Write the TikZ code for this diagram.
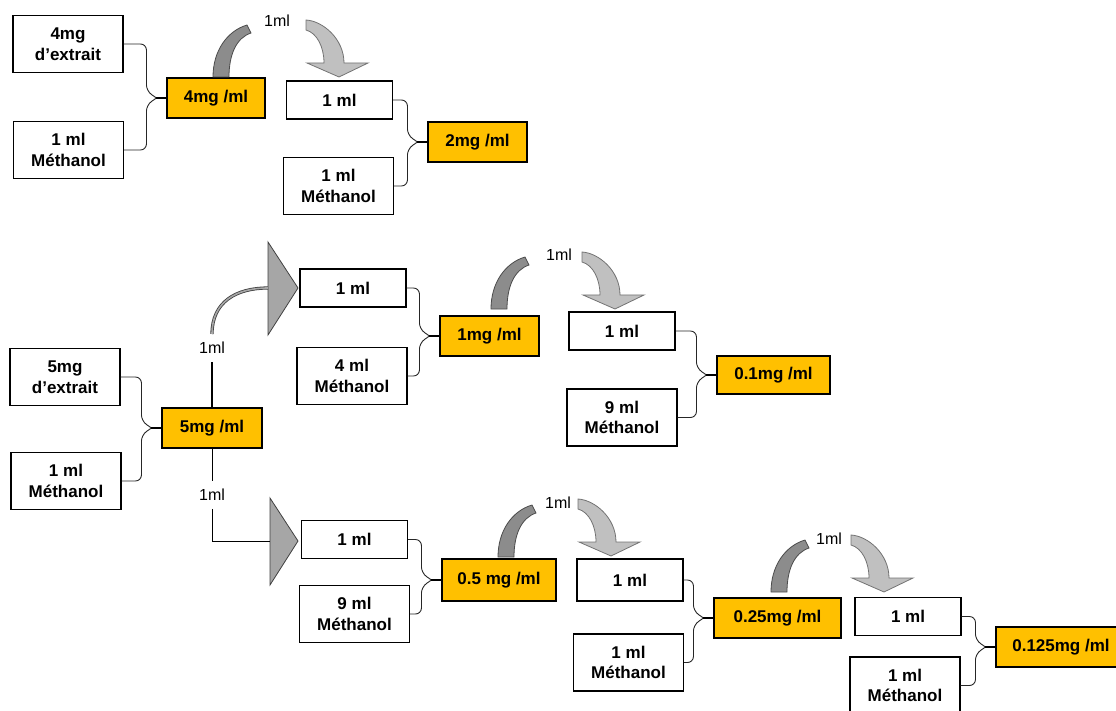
\documentclass[tikz,border=0pt]{standalone}
\usepackage{fontspec}
\setmainfont{Liberation Sans}
\usetikzlibrary{calc}
\definecolor{orangebox}{HTML}{FFC000}
\definecolor{pourgray}{HTML}{8C8C8C}
\definecolor{dropgray}{HTML}{C0C0C0}
\definecolor{trigray}{HTML}{A6A6A6}
\begin{document}
\begin{tikzpicture}[x=1pt,y=-1pt,
    box/.style={draw=black,line width=1.1pt,fill=white,align=center,inner sep=1pt,
      font=\fontsize{17}{20.5}\selectfont\bfseries},
    one/.style={minimum width=106pt,minimum height=38pt},
    two/.style={minimum width=110pt,minimum height=57pt},
    dose/.style={box,fill=orangebox,minimum height=40pt},
    lbl/.style={inner sep=0pt,font=\fontsize{16}{18}\selectfont},
    brace/.style={draw=black!85,line width=0.9pt,rounded corners=6pt},
    tri/.style={fill=trigray,draw=black!75,line width=0.8pt},
    curl/.style={draw=black!75,line width=0.8pt,double=trigray,double distance=1.6pt},
    pour/.pic={\draw[fill=pourgray,draw=black!70,line width=0.8pt]
      (-8,0) .. controls (-8,-26) and (6,-46) .. (26,-52) -- (30,-44)
      .. controls (15,-39) and (8,-22) .. (8,0) -- cycle;},
    drop/.pic={\draw[fill=dropgray,draw=black!55,line width=0.8pt]
      (-33,-57) .. controls (-16,-56) and (5,-38) .. (5,-14) -- (29,-14) -- (0,0)
      -- (-32,-14) -- (-15,-14) .. controls (-15,-30) and (-22,-44) .. (-33,-47) -- cycle;}]
  \useasboundingbox (0,0) rectangle (1116,711);
  \path
    (68,44) node[box,two] (a1){4mg\\d’extrait}
    (68.5,150) node[box,two] (a2){1 ml\\Méthanol}
    (216,98) node[dose,minimum width=98pt] (a3){4mg /ml}
    (339.5,100) node[box,one] (a4){1 ml}
    (338.5,186) node[box,two] (a5){1 ml\\Méthanol}
    (477.5,142) node[dose,minimum width=99pt] (a6){2mg /ml}
    (65,377) node[box,two] (b1){5mg\\d’extrait}
    (66,481) node[box,two] (b2){1 ml\\Méthanol}
    (212,428) node[dose,minimum width=100pt] (b3){5mg /ml}
    (353,288) node[box,one] (b4){1 ml}
    (352,376) node[box,two] (b5){4 ml\\Méthanol}
    (489.5,336) node[dose,minimum width=99pt] (b6){1mg /ml}
    (622,331) node[box,one] (b7){1 ml}
    (622,417.5) node[box,two] (b8){9 ml\\Méthanol}
    (773.5,375) node[dose,minimum width=113pt,minimum height=38pt] (b9){0.1mg /ml}
    (354.5,539.5) node[box,one] (c1){1 ml}
    (354.5,614) node[box,two] (c2){9 ml\\Méthanol}
    (499,580) node[dose,minimum width=114pt,minimum height=42pt] (c3){0.5 mg /ml}
    (630,580) node[box,one,minimum height=42pt] (c4){1 ml}
    (628.5,662.5) node[box,two] (c5){1 ml\\Méthanol}
    (777.5,618) node[dose,minimum width=127pt] (c6){0.25mg /ml}
    (908,616.5) node[box,one] (c7){1 ml}
    (905,685.5) node[box,two] (c8){1 ml\\Méthanol}
    (1061,647) node[dose,minimum width=130pt] (c9){0.125mg /ml};
  \path
    (277,21) node[lbl] (m1){1ml}
    (559,255) node[lbl] (m2){1ml}
    (558,503) node[lbl] (m3){1ml}
    (829,539) node[lbl] (m4){1ml}
    (212,348) node[lbl,inner ysep=8pt] (m5){1ml}
    (212,495) node[lbl,inner ysep=8pt] (m6){1ml};
  \coordinate (t1) at (268,288);
  \coordinate (t2) at (270,541);
  \draw[tri] (t1) ++(0,-46) -- ++(30,46) -- ++(-30,47) -- cycle;
  \draw[tri] (t2) ++(0,-43) -- ++(28,43) -- ++(-28,44) -- cycle;
  \draw[line width=1.8pt] (b3.north) -- (m5.south);
  \draw[curl] (m5.north) .. controls +(0,-32) and +(-32,0) .. (t1);
  \draw[line width=0.9pt] (b3.south) -- (m6.north);
  \draw[line width=0.9pt] (m6.south) |- (t2);
  \foreach \t/\b/\r in {a1/a2/a3,a4/a5/a6,b1/b2/b3,b4/b5/b6,b7/b8/b9,c1/c2/c3,c4/c5/c6,c7/c8/c9}{
    \coordinate (k\r) at ($(\r.west)+(-10,0)$);
    \draw[brace] (\t.east) -| ($(k\r)+(-10,-7)$) -- (k\r);
    \draw[brace] (\b.east) -| ($(k\r)+(-10,7)$) -- (k\r);
    \draw[line width=1.5pt] (k\r) -- (\r.west);
  }
  \pic at (221,77) {pour};
  \pic at (339,77) {drop};
  \pic at (499,309) {pour};
  \pic at (615,309) {drop};
  \pic at (506,557) {pour};
  \pic at (611,556) {drop};
  \pic at (779,592) {pour};
  \pic at (884,592) {drop};
\end{tikzpicture}
\end{document}
